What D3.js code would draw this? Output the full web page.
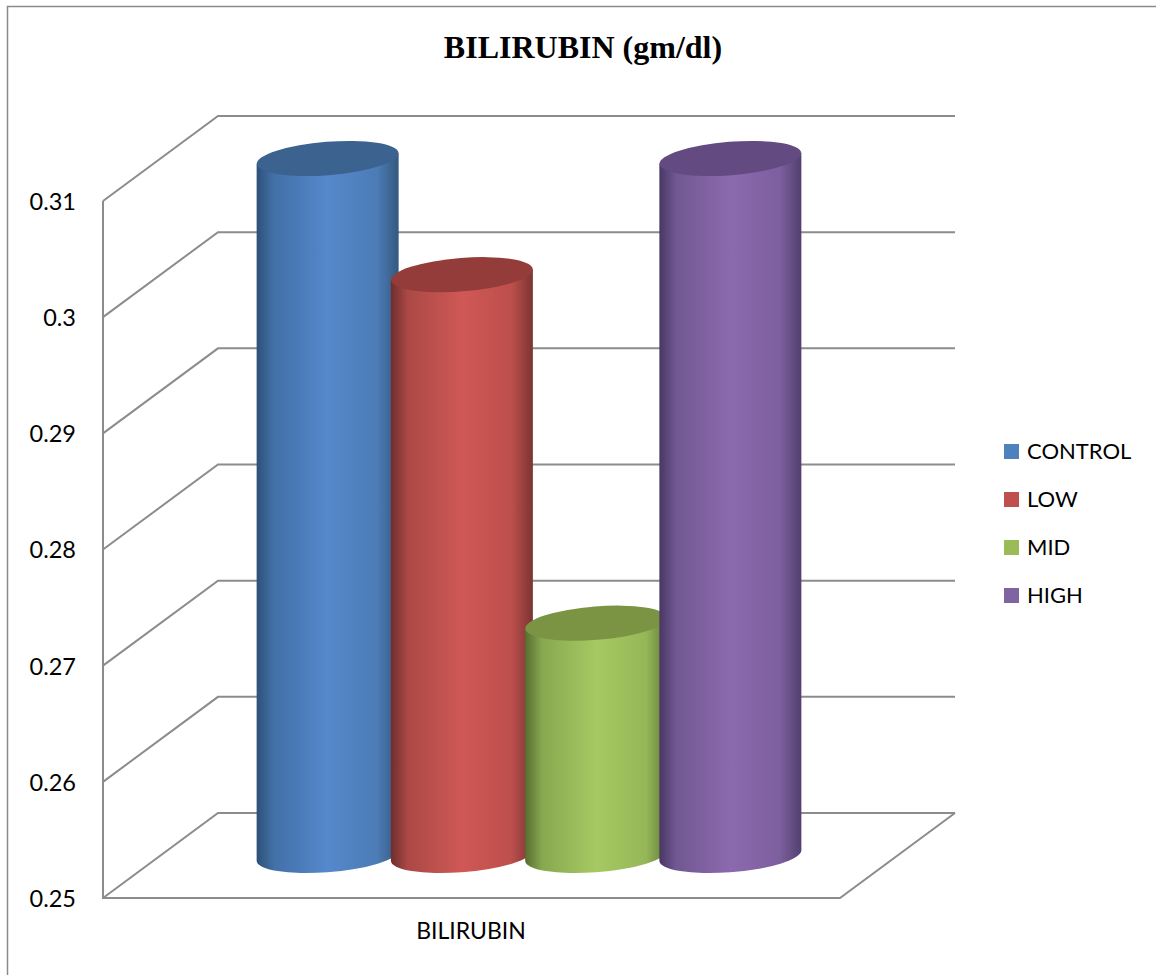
<!DOCTYPE html>
<html>
<head>
<meta charset="utf-8">
<script src="https://cdn.jsdelivr.net/npm/d3@7/dist/d3.min.js"></script>
<style>
html,body{margin:0;padding:0;background:#fff;overflow:hidden}
svg{display:block}
text{fill:#000}
.lab{font-family:Lato,"Open Sans",sans-serif;font-size:23.5px}
</style>
</head>
<body>
<script>
const categories = ["CONTROL", "LOW", "MID", "HIGH"];
const values = [0.31, 0.30, 0.27, 0.31];
const tickValues = [0.25, 0.26, 0.27, 0.28, 0.29, 0.30, 0.31];
const groupLabel = "BILIRUBIN";
const titleText = "BILIRUBIN (gm/dl)";
const bodyColors = [
  ["#2e5078", "#4270a6", "#5588cc", "#4c7cb5", "#34587f"],
  ["#6e2e2c", "#ab4946", "#cf5855", "#bd4f4c", "#7a3533"],
  ["#566e30", "#88a850", "#a6c962", "#96b758", "#647c38"],
  ["#483763", "#715892", "#8c69ae", "#7c5f9e", "#523f6e"]
];
const topColors = ["#3c6290", "#943c3a", "#7a9444", "#634a80"];
const legendColors = ["#4f81bd", "#c0504d", "#9bbb59", "#8064a2"];
const gradientStops = [0, 0.12, 0.5, 0.85, 1];

const W = 1156, H = 975;
const depthX = 115, depthY = 85;
const y = d3.scaleLinear().domain([0.25, 0.31]).range([898, 201]);
const frontX = d3.scaleLinear().domain([0, 1]).range([103, 840]);
const x = d3.scaleBand().domain(categories).range([frontX(0.1357), frontX(0.8643)]);

const svg = d3.select("body").append("svg").attr("width", W).attr("height", H);
const defs = svg.append("defs");

// page frame
svg.append("path").attr("d", `M7.5,${H}V6.5H${W}`).attr("fill", "none").attr("stroke", "#8a8a8a").attr("stroke-width", 1.5);

// gridlines
const grid = svg.append("g").attr("fill", "none").attr("stroke", "#8c8c8c").attr("stroke-width", 2);
tickValues.forEach(t => {
  const yf = y(t), x0 = frontX(0), x1 = frontX(1);
  grid.append("path").attr("d", `M${x0},${yf}L${x0 + depthX},${yf - depthY}H${x1 + depthX}`);
});
grid.append("path").attr("d", `M${frontX(0)},${y(0.31)}V${y(0.25)}H${frontX(1)}L${frontX(1) + depthX},${y(0.25) - depthY}`);

// y axis labels
const axis = svg.append("g").attr("class", "lab").attr("transform", "translate(76,0)")
  .call(d3.axisLeft(y).tickValues(tickValues).tickSize(0).tickPadding(0).tickFormat(d => String(+d.toFixed(2))));
axis.select(".domain").remove();
axis.selectAll("text").attr("class", "lab").attr("dy", "0.36em");
axis.attr("font-family", null).attr("font-size", null);

// cylinders
const a = 71.1, b = 16.7, rot = -4.5, hw = 71, tangentDy = 5.25;
categories.forEach((c, i) => {
  const cx = x(c) + x.bandwidth() / 2 + depthX / 2;
  const base = y(0.25) - depthY / 2;
  const top = y(values[i]) - depthY / 2;
  const id = "grad" + i;
  const g = defs.append("linearGradient").attr("id", id).attr("x1", "0").attr("x2", "1").attr("y1", "0").attr("y2", "0");
  gradientStops.forEach((o, k) => g.append("stop").attr("offset", o).attr("stop-color", bodyColors[i][k]));
  const lx = cx - hw, rx = cx + hw;
  svg.append("path")
    .attr("d", `M${lx},${top + tangentDy}L${lx},${base + tangentDy}A${a},${b} ${rot} 0 0 ${rx},${base - tangentDy}L${rx},${top - tangentDy}Z`)
    .attr("fill", `url(#${id})`);
  svg.append("ellipse")
    .attr("rx", a).attr("ry", b)
    .attr("transform", `translate(${cx},${top}) rotate(${rot})`)
    .attr("fill", topColors[i]);
});

// category label
svg.append("text").attr("class", "lab").attr("x", 471).attr("y", 939).attr("text-anchor", "middle")
  .style("font-size", "23px").text(groupLabel);

// title
svg.append("text").attr("x", 583).attr("y", 58).attr("text-anchor", "middle")
  .attr("font-family", "'Liberation Serif','Times New Roman',serif").attr("font-weight", "bold")
  .attr("font-size", 32).text(titleText);

// legend
const legendY = d3.scalePoint().domain(categories).range([451.5, 595.5]);
categories.forEach((c, i) => {
  svg.append("rect").attr("x", 1004).attr("y", legendY(c) - 7.5).attr("width", 15).attr("height", 15).attr("fill", legendColors[i]);
  svg.append("text").attr("class", "lab").attr("x", 1027).attr("y", legendY(c)).attr("dy", "0.36em").style("font-size", "22px").text(c);
});
</script>
</body>
</html>
